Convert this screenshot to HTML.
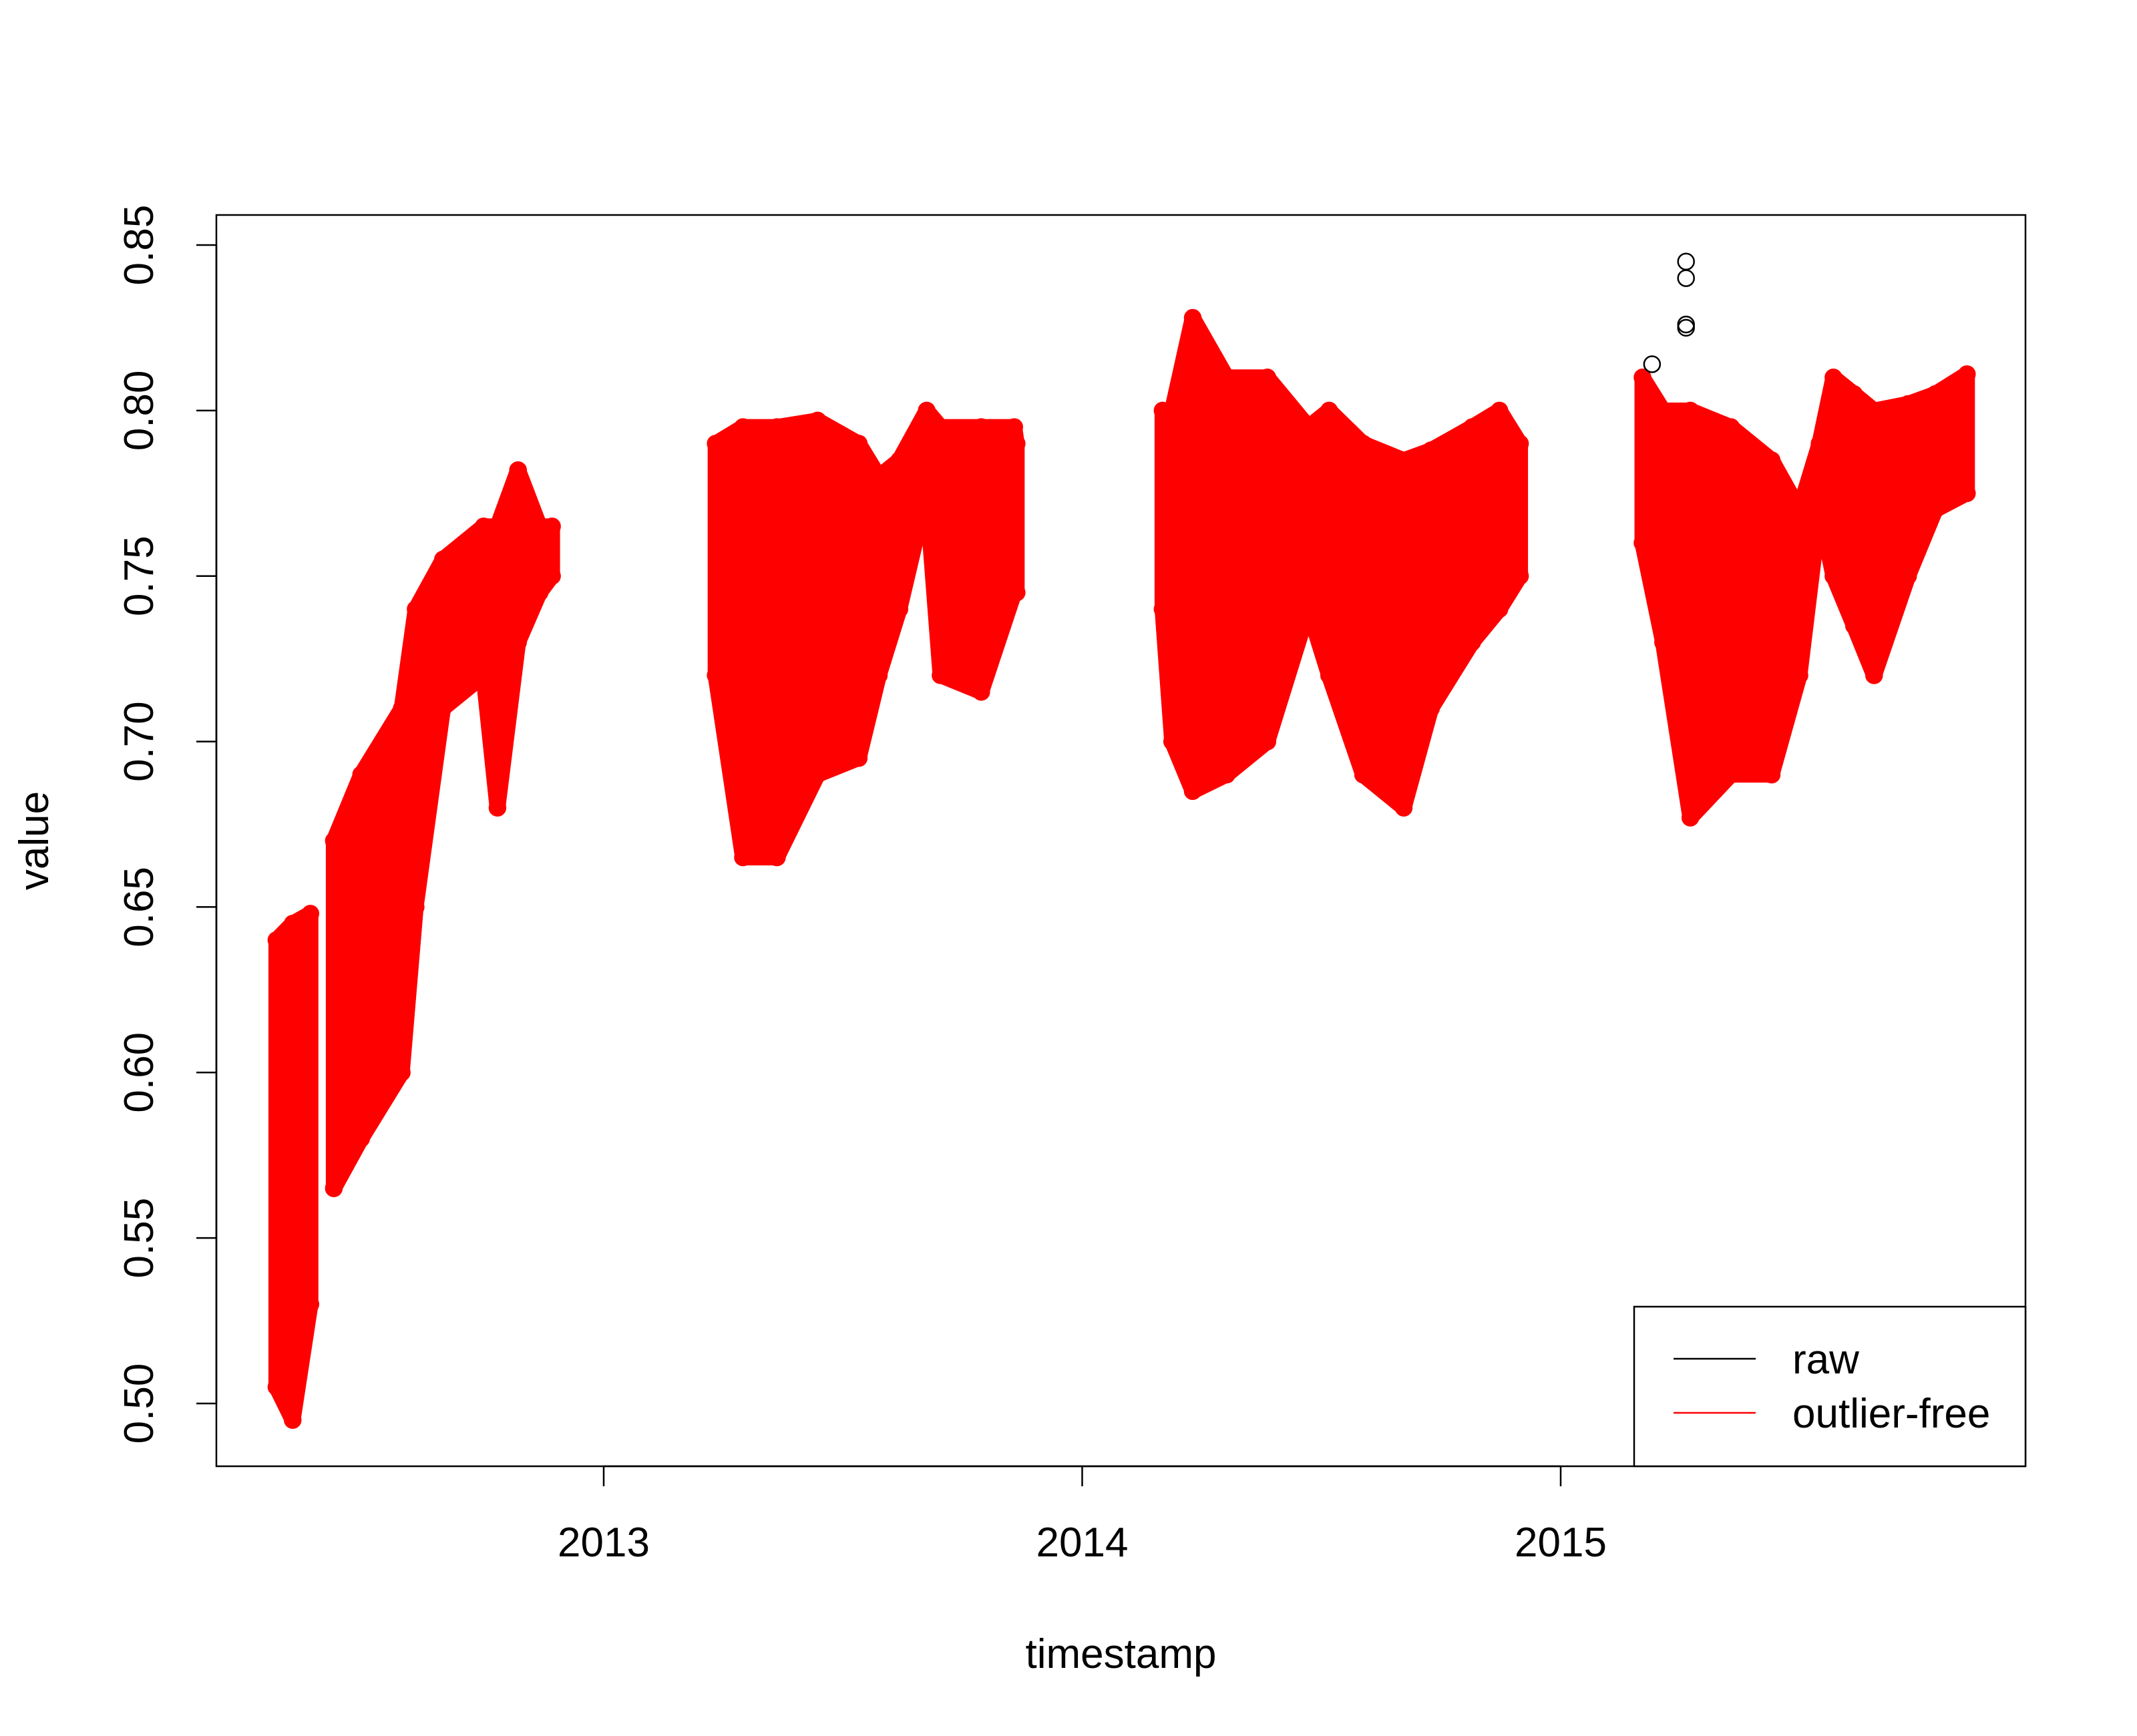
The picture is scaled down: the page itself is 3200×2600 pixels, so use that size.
<!DOCTYPE html>
<html><head><meta charset="utf-8"><style>
html,body{margin:0;padding:0;background:#fff;}
svg{display:block;font-family:"Liberation Sans",Arial,sans-serif;}
</style></head><body>
<svg id="chart" width="3200" height="2600" viewBox="0 0 3200 2600" xmlns="http://www.w3.org/2000/svg"></svg>
<script>
// Segment envelopes (decimal year, lower value, upper value)
const segIds = [0,0,0, 1,1,1,1,1,1,1,1,1,1, 2,2,2,2,2,2,2,2,2,2,2,2, 3,3,3,3,3,3,3,3,3,3,3,3,3, 4,4,4,4,4,4,4,4,4,4,4,4,4];
const times = [2012.316,2012.350,2012.387,
 2012.436,2012.493,2012.578,2012.607,2012.664,2012.749,2012.778,2012.821,2012.866,2012.892,
 2013.234,2013.291,2013.362,2013.447,2013.533,2013.575,2013.618,2013.675,2013.704,2013.789,2013.858,2013.863,
 2014.168,2014.188,2014.231,2014.302,2014.387,2014.473,2014.516,2014.587,2014.672,2014.729,2014.815,2014.872,2014.915,
 2015.171,2015.214,2015.271,2015.356,2015.441,2015.499,2015.541,2015.570,2015.613,2015.655,2015.726,2015.783,2015.849];
const lows  = [0.505,0.495,0.530, 0.565,0.580,0.600,0.650,0.710,0.720,0.680,0.730,0.745,0.750,
 0.720,0.665,0.665,0.690,0.695,0.720,0.740,0.775,0.720,0.715,0.745,0.745,
 0.740,0.700,0.685,0.690,0.700,0.740,0.720,0.690,0.680,0.710,0.730,0.740,0.750,
 0.760,0.730,0.677,0.690,0.690,0.720,0.770,0.750,0.735,0.720,0.750,0.770,0.775];
const highs = [0.640,0.645,0.648, 0.670,0.690,0.710,0.740,0.755,0.765,0.765,0.782,0.765,0.765,
 0.790,0.795,0.795,0.797,0.790,0.780,0.785,0.800,0.795,0.795,0.795,0.790,
 0.800,0.800,0.828,0.810,0.810,0.795,0.800,0.790,0.785,0.788,0.795,0.800,0.790,
 0.810,0.800,0.800,0.795,0.785,0.770,0.790,0.810,0.805,0.800,0.802,0.805,0.811];
const rawTimes = [2015.191,2015.262,2015.262,2015.262,2015.262];
const rawVals = [0.814,0.845,0.840,0.826,0.825];
const yTicks = [0.50,0.55,0.60,0.65,0.70,0.75,0.80,0.85];
const xTicks = [2013,2014,2015];

const NS="http://www.w3.org/2000/svg";
const svg=document.getElementById('chart');
const L=324,R=3033,T=322,B=2196;
const xs=t=>904+(t-2013)*716.5;
const ys=v=>2102-(v-0.50)/0.35*1735;
function mk(tag,attrs,parent){const e=document.createElementNS(NS,tag);for(const k in attrs)e.setAttribute(k,attrs[k]);(parent||svg).appendChild(e);return e;}

const dataG=mk('g',{});


const segs=[...new Set(segIds)];
segs.forEach(s=>{
  const idx=segIds.map((v,i)=>v===s?i:-1).filter(i=>i>=0);
  const top=idx.map(i=>xs(times[i])+','+ys(highs[i]));
  const bot=idx.slice().reverse().map(i=>xs(times[i])+','+ys(lows[i]));
  const p=mk('polygon',{points:top.concat(bot).join(' '),fill:'#ff0000',stroke:'#ff0000','stroke-width':24,'stroke-linejoin':'round'},dataG);
  
  
  idx.forEach(i=>{
    [lows[i],highs[i]].forEach(v=>{
      const c=mk('circle',{cx:xs(times[i]),cy:ys(v),r:12,fill:'none',stroke:'#ff0000','stroke-width':2.5},dataG);
      
      
    });
  });
});
rawTimes.forEach((t,i)=>{
  const c=mk('circle',{cx:xs(t),cy:ys(rawVals[i]),r:12,fill:'none',stroke:'#000','stroke-width':2.5});
  
  
});

const box=mk('rect',{x:L,y:T,width:R-L,height:B-T,fill:'none',stroke:'#000','stroke-width':2.5});


const yl=mk('line',{x1:L,x2:L,y1:ys(0.50),y2:ys(0.85),stroke:'#000','stroke-width':2.5});


yTicks.forEach(v=>{
  const y=ys(v);
  const tk=mk('line',{x1:L-30,x2:L,y1:y,y2:y,stroke:'#000','stroke-width':2.5});
  
  
  const tx=mk('text',{x:0,y:0,transform:`translate(${L-95},${y}) rotate(-90)`,'text-anchor':'middle','font-size':62});
  tx.textContent=v.toFixed(2);
  
  
});
const xl=mk('line',{x1:xs(2013),x2:xs(2015),y1:B,y2:B,stroke:'#000','stroke-width':2.5});


xTicks.forEach(t=>{
  const x=xs(t);
  const tk=mk('line',{x1:x,x2:x,y1:B,y2:B+30,stroke:'#000','stroke-width':2.5});
  
  
  const tx=mk('text',{x:x,y:B+135,'text-anchor':'middle','font-size':62});
  tx.textContent=String(t);
  
  
});
const xt=mk('text',{x:(L+R)/2,y:2498,'text-anchor':'middle','font-size':62});
xt.textContent='timestamp';


const yt=mk('text',{x:0,y:0,transform:`translate(72,${(T+B)/2}) rotate(-90)`,'text-anchor':'middle','font-size':62});
yt.textContent='value';



const lg=mk('g',{});


mk('rect',{x:2447,y:1957,width:R-2447,height:B-1957,fill:'#fff',stroke:'#000','stroke-width':2.5},lg);
[['raw','#000',2035],['outlier-free','#ff0000',2116]].forEach(([lab,col,y])=>{
  const e=mk('g',{},lg);
  
  
  mk('line',{x1:2506,x2:2629,y1:y,y2:y,stroke:col,'stroke-width':2.5},e);
  const t=mk('text',{x:2684,y:y+22,'font-size':62},e);
  t.textContent=lab;
});
</script>
</body></html>
